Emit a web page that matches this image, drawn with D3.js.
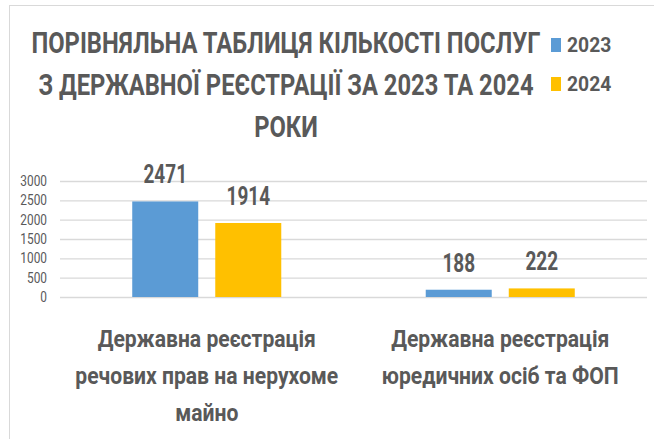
<!DOCTYPE html>
<html><head><meta charset="utf-8">
<script src="https://cdn.jsdelivr.net/npm/d3@7"></script>
<style>body{margin:0;background:#fff}svg{display:block}text{font-family:Roboto,"Liberation Sans",sans-serif;font-weight:bold;fill:#595959}</style>
</head><body><svg id="c" width="654" height="439"></svg>
<script>
const categories = [
  ["Державна реєстрація", "речових прав на нерухоме", "майно"],
  ["Державна реєстрація", "юредичних осіб та ФОП"]
];
const seriesNames = ["2023", "2024"];
const values2023 = [2471, 188];
const values2024 = [1914, 222];
const yTicks = [0, 500, 1000, 1500, 2000, 2500, 3000];
const titleLines = ["ПОРІВНЯЛЬНА ТАБЛИЦЯ КІЛЬКОСТІ ПОСЛУГ", "З ДЕРЖАВНОЇ РЕЄСТРАЦІЇ ЗА 2023 ТА 2024", "РОКИ"];
const colors = ["#5B9BD5", "#FFC000"];

const svg = d3.select("#c");
svg.append("rect").attr("x", 9.5).attr("y", 5.5).attr("width", 700).attr("height", 700)
  .attr("fill", "none").attr("stroke", "#D9D9D9");

function txt(x, y, s, size, anchor, sx) {
  return svg.append("text").attr("transform", `translate(${x},${y}) scale(${sx},1)`)
    .attr("text-anchor", anchor || "middle").attr("font-size", size).text(s);
}

const x0 = d3.scaleBand().domain(d3.range(categories.length)).range([60, 647]);
const x1 = d3.scaleBand().domain(seriesNames).range([0, x0.bandwidth()]).paddingInner(0.205).paddingOuter(0.87);
const y = d3.scaleLinear().domain([0, 3000]).range([297, 181]);

// grid
const yAxis = d3.axisLeft(y).tickValues(yTicks).tickFormat(d3.format("d")).tickSize(-(647 - 60)).tickPadding(13);
const ga = svg.append("g").attr("transform", "translate(60,0)").call(yAxis);
ga.select(".domain").remove();
ga.selectAll(".tick line").attr("stroke", "#D9D9D9").attr("stroke-width", 1.3);
ga.selectAll(".tick text").attr("font-size", 14.5).style("font-weight", "normal").attr("fill", "#595959")
  .attr("transform", "scale(0.82,1)").attr("x", -13 / 0.82);

const series = [values2023, values2024];
series.forEach((vals, si) => {
  vals.forEach((v, ci) => {
    const bx = x0(ci) + x1(seriesNames[si]);
    svg.append("rect").attr("x", bx).attr("y", y(v)).attr("width", x1.bandwidth())
      .attr("height", y(0) - y(v)).attr("fill", colors[si]);
    txt(bx + x1.bandwidth() / 2, y(v) - 18, String(v), 25, "middle", 0.76);
  });
});

// title
titleLines.forEach((t, i) => txt(286, 53 + i * 42, t, 29, "middle", 0.82));

// legend
seriesNames.forEach((s, i) => {
  svg.append("rect").attr("x", 551).attr("y", 38 + i * 39).attr("width", 10).attr("height", 14).attr("fill", colors[i]);
  txt(567, 52 + i * 39, s, 21, "start", 0.92);
});

// category labels
categories.forEach((lines, ci) => {
  const cx = x0(ci) + x0.bandwidth() / 2;
  lines.forEach((l, li) => txt(cx, 347 + li * 37, l, 24, "middle", 0.88));
});
</script></body></html>
